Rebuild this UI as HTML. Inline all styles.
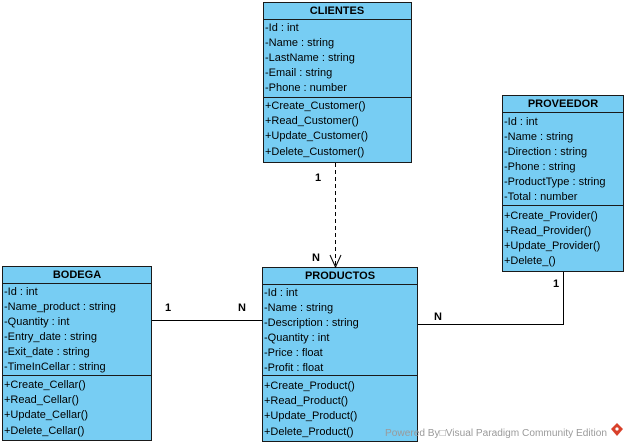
<!DOCTYPE html>
<html><head><meta charset="utf-8"><style>
html,body{margin:0;padding:0;background:#fff;width:629px;height:448px;overflow:hidden}
svg text{font-family:"Liberation Sans",Arial,sans-serif;font-size:11px;fill:#000}
.h{font-weight:bold;text-anchor:middle}
.b{fill:#77cdf3;stroke:#1a1a1a;stroke-width:1}
</style></head><body>
<svg width="629" height="448" viewBox="0 0 629 448">
<rect class="b" x="263.5" y="2.5" width="148" height="160"/>
<line x1="263.5" y1="19.5" x2="411.5" y2="19.5" stroke="#1a1a1a"/>
<line x1="263.5" y1="97.5" x2="411.5" y2="97.5" stroke="#1a1a1a"/>
<text class="h" x="337" y="14">CLIENTES</text>
<text x="265" y="31">-Id : int</text>
<text x="265" y="46">-Name : string</text>
<text x="265" y="61">-LastName : string</text>
<text x="265" y="76">-Email : string</text>
<text x="265" y="91">-Phone : number</text>
<text x="265" y="109">+Create_Customer()</text>
<text x="265" y="124">+Read_Customer()</text>
<text x="265" y="139">+Update_Customer()</text>
<text x="265" y="155">+Delete_Customer()</text>
<rect class="b" x="502.5" y="95.5" width="121" height="176"/>
<line x1="502.5" y1="112.5" x2="623.5" y2="112.5" stroke="#1a1a1a"/>
<line x1="502.5" y1="205.5" x2="623.5" y2="205.5" stroke="#1a1a1a"/>
<text class="h" x="563" y="107">PROVEEDOR</text>
<text x="504" y="125">-Id : int</text>
<text x="504" y="140">-Name : string</text>
<text x="504" y="155">-Direction : string</text>
<text x="504" y="170">-Phone : string</text>
<text x="504" y="185">-ProductType : string</text>
<text x="504" y="200">-Total : number</text>
<text x="504" y="219">+Create_Provider()</text>
<text x="504" y="234">+Read_Provider()</text>
<text x="504" y="249">+Update_Provider()</text>
<text x="504" y="264">+Delete_()</text>
<rect class="b" x="2.5" y="266.5" width="149" height="174"/>
<line x1="2.5" y1="283.5" x2="151.5" y2="283.5" stroke="#1a1a1a"/>
<line x1="2.5" y1="375.5" x2="151.5" y2="375.5" stroke="#1a1a1a"/>
<text class="h" x="77" y="278">BODEGA</text>
<text x="4" y="295">-Id : int</text>
<text x="4" y="310">-Name_product : string</text>
<text x="4" y="325">-Quantity : int</text>
<text x="4" y="340">-Entry_date : string</text>
<text x="4" y="355">-Exit_date : string</text>
<text x="4" y="370">-TimeInCellar : string</text>
<text x="4" y="388">+Create_Cellar()</text>
<text x="4" y="403">+Read_Cellar()</text>
<text x="4" y="418">+Update_Cellar()</text>
<text x="4" y="434">+Delete_Cellar()</text>
<rect class="b" x="262.5" y="267.5" width="155" height="174"/>
<line x1="262.5" y1="284.5" x2="417.5" y2="284.5" stroke="#1a1a1a"/>
<line x1="262.5" y1="375.5" x2="417.5" y2="375.5" stroke="#1a1a1a"/>
<text class="h" x="340" y="279">PRODUCTOS</text>
<text x="264" y="296">-Id : int</text>
<text x="264" y="311">-Name : string</text>
<text x="264" y="326">-Description : string</text>
<text x="264" y="341">-Quantity : int</text>
<text x="264" y="356">-Price : float</text>
<text x="264" y="371">-Profit : float</text>
<text x="264" y="389">+Create_Product()</text>
<text x="264" y="404">+Read_Product()</text>
<text x="264" y="419">+Update_Product()</text>
<text x="264" y="435">+Delete_Product()</text>
<line x1="335.5" y1="163" x2="335.5" y2="266" stroke="#000" stroke-dasharray="4,3"/>
<polyline points="330,255 335.5,267 341,255" fill="none" stroke="#000"/>
<text x="315" y="181" font-weight="bold">1</text>
<text x="312" y="261" font-weight="bold">N</text>
<line x1="152" y1="320.5" x2="262" y2="320.5" stroke="#000"/>
<text x="165" y="311" font-weight="bold">1</text>
<text x="238" y="311" font-weight="bold">N</text>
<polyline points="418,324.5 563.5,324.5 563.5,272" fill="none" stroke="#000"/>
<text x="434" y="320" font-weight="bold">N</text>
<text x="553" y="287" font-weight="bold">1</text>
<text x="385" y="436" textLength="222" lengthAdjust="spacingAndGlyphs" style="fill:#9a9a9a;font-size:10px">Powered By□Visual Paradigm Community Edition</text>
<path d="M617,423 l6,6 l-6,7 l-6,-7z" fill="#d8402a"/>
<circle cx="617" cy="429" r="1.6" fill="#fff"/>
</svg>
</body></html>
